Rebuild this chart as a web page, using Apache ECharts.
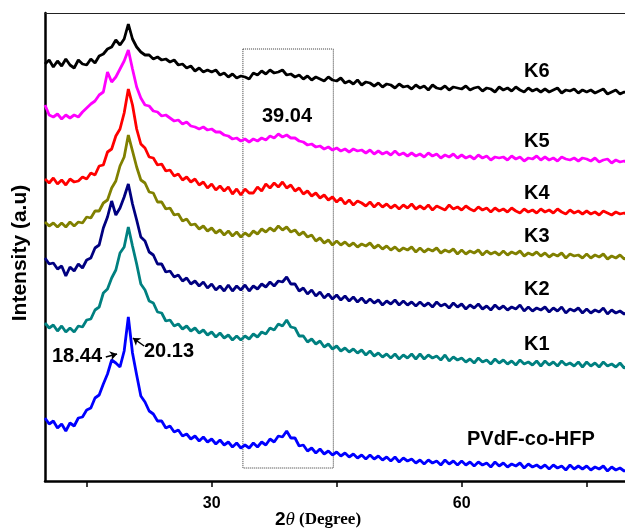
<!DOCTYPE html>
<html>
<head>
<meta charset="utf-8">
<script src="https://cdn.jsdelivr.net/npm/echarts@6/dist/echarts.min.js"></script>
<style>
  html, body { margin: 0; padding: 0; background: #fff; }
  #chart { width: 625px; height: 528px; }
</style>
</head>
<body>
<div id="chart"></div>
<script>
// 2θ values (degree), step 0.5
const twoTheta = [
  10, 10.5, 11, 11.5, 12, 12.5, 13, 13.5, 14, 14.5,
  15, 15.5, 16, 16.5, 17, 17.5, 18, 18.5, 19, 19.5,
  20, 20.5, 21, 21.5, 22, 22.5, 23, 23.5, 24, 24.5,
  25, 25.5, 26, 26.5, 27, 27.5, 28, 28.5, 29, 29.5,
  30, 30.5, 31, 31.5, 32, 32.5, 33, 33.5, 34, 34.5,
  35, 35.5, 36, 36.5, 37, 37.5, 38, 38.5, 39, 39.5,
  40, 40.5, 41, 41.5, 42, 42.5, 43, 43.5, 44, 44.5,
  45, 45.5, 46, 46.5, 47, 47.5, 48, 48.5, 49, 49.5,
  50, 50.5, 51, 51.5, 52, 52.5, 53, 53.5, 54, 54.5,
  55, 55.5, 56, 56.5, 57, 57.5, 58, 58.5, 59, 59.5,
  60, 60.5, 61, 61.5, 62, 62.5, 63, 63.5, 64, 64.5,
  65, 65.5, 66, 66.5, 67, 67.5, 68, 68.5, 69, 69.5,
  70, 70.5, 71, 71.5, 72, 72.5, 73, 73.5, 74, 74.5,
  75, 75.5, 76, 76.5, 77, 77.5, 78, 78.5, 79, 79.5,
  80
];

// stacked intensities (a.u., offset per sample)
const k6 = [
  417, 421, 414, 420, 415, 422, 416, 413, 421, 417,
  416, 422, 418, 425, 427, 432, 434, 441, 436, 442,
  457, 442, 434, 429, 426, 426, 422, 424, 421, 422,
  419, 421, 416, 417, 413, 415, 410, 413, 409, 411,
  409, 411, 406, 408, 404, 407, 403, 405, 404, 402,
  408, 406, 410, 407, 411, 408, 409, 411, 406, 407,
  404, 406, 402, 405, 401, 404, 402, 400, 404, 401,
  400, 403, 398, 400, 397, 401, 396, 399, 398, 395,
  398, 394, 397, 396, 393, 397, 394, 395, 392, 396,
  393, 395, 391, 396, 393, 392, 395, 391, 394, 393,
  392, 395, 391, 393, 394, 390, 393, 392, 389, 394,
  391, 393, 390, 394, 391, 389, 393, 390, 392, 389,
  392, 389, 391, 393, 388, 391, 390, 392, 388, 391,
  389, 391, 388, 390, 392, 387, 389, 391, 387, 389,
  388
];
const k5 = [
  376, 366, 364, 367, 362, 366, 363, 366, 364, 369,
  373, 377, 380, 386, 389, 409, 399, 404, 412, 420,
  431, 412, 394, 383, 376, 375, 370, 369, 365, 366,
  363, 360, 361, 357, 359, 355, 354, 352, 354, 351,
  352, 349, 349, 346, 345, 342, 343, 340, 342, 339,
  342, 340, 343, 341, 345, 343, 347, 344, 346, 343,
  343, 340, 339, 336, 337, 334, 335, 332, 334, 331,
  333, 330, 332, 329, 332, 330, 331, 328, 331, 327,
  330, 327, 329, 326, 330, 326, 328, 325, 328, 325,
  327, 324, 328, 325, 327, 323, 326, 324, 327, 323,
  326, 323, 325, 322, 326, 323, 325, 321, 324, 323,
  324, 321, 325, 322, 324, 320, 323, 322, 325, 321,
  324, 321, 323, 320, 324, 322, 321, 323, 320, 323,
  322, 320, 323, 319, 321, 322, 318, 321, 319, 320,
  318
];
const k4 = [
  302, 298, 303, 297, 301, 296, 302, 299, 300, 304,
  302, 308, 306, 315, 316, 329, 332, 345, 352, 368,
  392, 376, 352, 337, 333, 324, 323, 316, 317, 310,
  311, 305, 307, 301, 304, 299, 302, 296, 299, 293,
  297, 291, 295, 290, 294, 287, 292, 286, 292, 288,
  288, 294, 290, 297, 293, 298, 294, 299, 293, 296,
  290, 293, 287, 290, 285, 288, 283, 286, 281, 284,
  279, 283, 277, 281, 276, 280, 278, 275, 279, 274,
  278, 274, 277, 273, 276, 272, 276, 273, 277, 272,
  275, 272, 276, 271, 275, 273, 271, 276, 272, 274,
  271, 275, 272, 270, 274, 271, 273, 269, 273, 270,
  272, 269, 273, 270, 268, 272, 269, 271, 268, 272,
  269, 271, 268, 272, 269, 267, 271, 268, 270, 267,
  270, 267, 269, 266, 270, 268, 266, 269, 267, 268,
  266
];
const k3 = [
  259, 255, 258, 254, 258, 254, 259, 255, 259, 258,
  264, 263, 270, 270, 278, 281, 293, 300, 315, 324,
  346, 330, 314, 301, 298, 289, 288, 279, 279, 272,
  273, 266, 267, 260, 262, 256, 257, 252, 255, 250,
  253, 248, 251, 246, 250, 245, 249, 244, 248, 245,
  250, 247, 252, 249, 253, 250, 255, 251, 254, 249,
  251, 246, 249, 244, 246, 240, 243, 238, 241, 236,
  240, 236, 239, 235, 238, 234, 237, 235, 238, 233,
  236, 232, 235, 231, 234, 230, 233, 231, 234, 229,
  233, 229, 232, 230, 233, 228, 231, 229, 232, 227,
  231, 227, 230, 228, 231, 226, 230, 227, 229, 226,
  230, 226, 229, 227, 230, 225, 228, 226, 229, 225,
  228, 224, 227, 225, 228, 223, 227, 225, 226, 223,
  227, 223, 226, 224, 227, 222, 225, 223, 226, 222,
  224
];
const k2 = [
  223, 217, 218, 212, 215, 205, 214, 210, 217, 213,
  221, 223, 233, 236, 253, 264, 280, 266, 273, 284,
  297, 277, 261, 244, 240, 229, 226, 217, 217, 209,
  210, 204, 206, 200, 203, 197, 200, 195, 199, 193,
  197, 191, 195, 190, 196, 190, 195, 191, 196, 190,
  195, 192, 197, 194, 199, 195, 200, 199, 204, 197,
  197, 190, 193, 187, 191, 185, 189, 183, 187, 182,
  186, 181, 185, 180, 184, 179, 183, 178, 182, 178,
  181, 176, 180, 177, 181, 176, 180, 176, 179, 175,
  179, 175, 178, 174, 179, 175, 177, 173, 178, 174,
  177, 172, 176, 173, 177, 172, 175, 171, 176, 172,
  175, 171, 174, 172, 176, 170, 174, 170, 173, 171,
  174, 169, 173, 170, 174, 168, 172, 170, 173, 168,
  172, 168, 171, 169, 173, 167, 171, 168, 170, 167,
  169
];
const k1 = [
  158, 153, 156, 150, 155, 149, 153, 149, 155, 154,
  161, 162, 171, 174, 188, 192, 203, 211, 228, 234,
  254, 235, 217, 197, 191, 180, 178, 169, 168, 160,
  161, 155, 157, 152, 155, 150, 153, 148, 151, 146,
  149, 144, 148, 143, 146, 141, 145, 141, 145, 142,
  147, 144, 149, 147, 153, 151, 157, 155, 161, 154,
  153, 145, 145, 139, 142, 137, 140, 134, 137, 132,
  135, 130, 133, 129, 132, 128, 131, 126, 130, 125,
  128, 124, 127, 123, 127, 122, 126, 123, 127, 122,
  127, 122, 126, 123, 125, 121, 126, 120, 124, 121,
  123, 119, 122, 118, 123, 119, 121, 117, 122, 118,
  121, 117, 120, 116, 121, 117, 119, 116, 120, 115,
  120, 116, 119, 115, 120, 116, 118, 115, 119, 114,
  119, 115, 118, 114, 119, 115, 117, 114, 118, 113,
  116
];
const pvdf = [
  63, 57, 60, 53, 57, 50, 58, 55, 63, 64,
  71, 73, 83, 86, 97, 107, 121, 118, 114, 130,
  164, 128, 106, 85, 79, 70, 67, 60, 60, 53,
  55, 49, 51, 45, 47, 42, 45, 40, 44, 39,
  42, 37, 41, 36, 39, 34, 38, 33, 36, 33,
  38, 34, 39, 36, 42, 39, 45, 44, 50, 43,
  43, 35, 36, 30, 33, 28, 32, 27, 30, 26,
  29, 25, 28, 24, 27, 23, 26, 22, 26, 22,
  25, 21, 24, 20, 24, 19, 23, 20, 22, 18,
  21, 17, 21, 18, 20, 16, 21, 17, 20, 16,
  20, 16, 19, 15, 19, 16, 18, 14, 19, 15,
  18, 14, 17, 15, 18, 13, 17, 14, 16, 13,
  16, 12, 16, 13, 15, 11, 16, 12, 15, 12,
  15, 11, 14, 12, 15, 10, 14, 11, 13, 10,
  11
];

const seriesNames = ['K6', 'K5', 'K4', 'K3', 'K2', 'K1', 'PVdF-co-HFP'];
const seriesColors = ['#000000', '#ff00ff', '#ff0000', '#808000', '#000080', '#008080', '#0000ff'];
const seriesData = [k6, k5, k4, k3, k2, k1, pvdf];
const xTicks = [15, 30, 45, 60, 75];
const xLabels = [30, 60];

const chart = echarts.init(document.getElementById('chart'));

const series = seriesNames.map((name, i) => ({
    name: name,
    type: 'line',
    data: twoTheta.map((x, j) => [x, seriesData[i][j]]),
    showSymbol: false,
    symbol: 'none',
    lineStyle: { color: seriesColors[i], width: 2.8 },
    itemStyle: { color: seriesColors[i] },
    silent: true,
    animation: false
}));

// dotted box around the ~39° hump
series[0].markArea = {
    silent: true,
    itemStyle: { color: 'rgba(0,0,0,0)', borderColor: '#333', borderWidth: 1, borderType: 'dotted' },
    data: [[{ coord: [33.75, 432] }, { coord: [44.6, 13] }]]
};

// arrows for the 18.44 / 20.13 peaks
series[6].markLine = {
    silent: true,
    symbol: ['none', 'arrow'],
    symbolSize: 7,
    label: { show: false },
    lineStyle: { color: '#000', width: 1.5, type: 'solid' },
    data: [
        [{ coord: [17.3, 124] }, { coord: [18.65, 127] }],
        [{ coord: [21.9, 135] }, { coord: [20.55, 143] }]
    ]
};

const labelFont = 'bold 20px "Liberation Sans", Arial, sans-serif';
const labelPos = [[524, 72], [524, 142], [524, 194], [524, 237], [524, 290], [524, 345], [467, 440]];

const graphic = seriesNames.map((name, i) => ({
    type: 'text',
    left: labelPos[i][0],
    top: labelPos[i][1] - 11,
    style: { text: name, font: labelFont, fill: '#000' }
}));
graphic.push(
    { type: 'text', left: 262, top: 106, style: { text: '39.04', font: labelFont, fill: '#000' } },
    { type: 'text', left: 52, top: 346, style: { text: '18.44', font: labelFont, fill: '#000' } },
    { type: 'text', left: 144, top: 341, style: { text: '20.13', font: labelFont, fill: '#000' } },
    {
        type: 'text',
        x: 20, y: 253,
        rotation: Math.PI / 2,
        style: {
            text: 'Intensity (a.u)',
            font: 'bold 21px "Liberation Sans", Arial, sans-serif',
            fill: '#000',
            align: 'center',
            verticalAlign: 'middle'
        }
    },
    {
        type: 'text',
        x: 318, y: 520,
        style: {
            text: '{a|2}{b|θ}{c| (Degree)}',
            align: 'center',
            verticalAlign: 'middle',
            rich: {
                a: { font: 'bold 19px "Liberation Sans", Arial, sans-serif', fill: '#000' },
                b: { font: 'italic 19px "Liberation Serif", "Times New Roman", serif', fill: '#000' },
                c: { font: 'bold 17px "Liberation Serif", "Times New Roman", serif', fill: '#000' }
            }
        }
    }
);

const option = {
    animation: false,
    backgroundColor: '#fff',
    grid: { left: 45, right: 0, top: 13, bottom: 47 },
    xAxis: [
        {
            type: 'value',
            min: 10,
            max: 79.6,
            position: 'bottom',
            axisLine: { lineStyle: { color: '#000', width: 2.5 } },
            axisTick: { show: true, length: 6, customValues: xTicks, lineStyle: { color: '#000', width: 1.5 } },
            axisLabel: {
                customValues: xLabels,
                color: '#000',
                fontFamily: '"Liberation Sans", Arial, sans-serif',
                fontWeight: 'bold',
                fontSize: 16,
                margin: 15
            },
            splitLine: { show: false }
        },
        {
            type: 'value',
            min: 10,
            max: 79.6,
            position: 'top',
            axisLine: { lineStyle: { color: '#222', width: 1 } },
            axisTick: { show: false },
            axisLabel: { show: false },
            splitLine: { show: false }
        }
    ],
    yAxis: {
        type: 'value',
        min: 0,
        max: 468,
        axisLine: { show: true, lineStyle: { color: '#000', width: 2.5 } },
        axisTick: { show: false },
        axisLabel: { show: false },
        splitLine: { show: false }
    },
    series: series,
    graphic: graphic
};

chart.setOption(option);
</script>
</body>
</html>
